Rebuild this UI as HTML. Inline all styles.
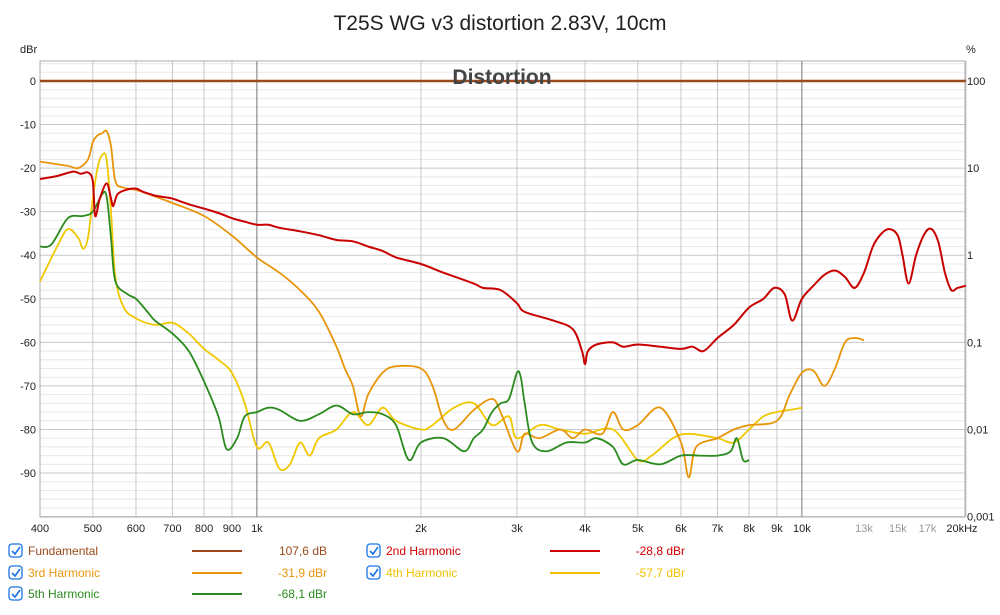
<!DOCTYPE html>
<html><head><meta charset="utf-8"><style>
body{margin:0;background:#fff;font-family:"Liberation Sans",sans-serif}
svg text{font-family:"Liberation Sans",sans-serif}
</style></head><body>
<svg id="c" width="1000" height="610" xmlns="http://www.w3.org/2000/svg">
<text x="500" y="30" text-anchor="middle" font-size="21" fill="#222">T25S WG v3 distortion 2.83V, 10cm</text>
<text x="20" y="53" font-size="11" fill="#222">dBr</text>
<text x="966" y="53" font-size="11" fill="#222">%</text>
<g id="grid"></g>
<g id="axes"></g>
<g id="series"></g>
<text x="502" y="84" text-anchor="middle" font-size="21" font-weight="bold" fill="#444">Distortion</text>
<g id="legend"></g>
</svg>
<script>
const fundF=[400,20000];const fundV=[0,0];
const h2F=[400,430,460,475,490,500,505,515,530,540,545,555,575,600,620,650,680,700,750,800,850,900,950,1000,1050,1100,1200,1300,1400,1500,1600,1700,1800,2000,2200,2500,2600,2800,3000,3100,3500,3800,3950,4000,4050,4200,4500,4700,5000,5500,6000,6300,6600,7000,7500,8000,8500,8900,9300,9600,10000,10500,11000,11500,12000,12500,13000,13500,14000,14500,15000,15300,15700,16200,16800,17300,17800,18300,18800,19300,20000];
const h2V=[-22.5,-21.8,-20.8,-21.3,-21,-23,-31,-27,-23.5,-27,-28.7,-26,-25,-24.7,-25.5,-26.3,-26.7,-27,-28.3,-29.3,-30.3,-31.5,-32.3,-33,-33,-33.7,-34.5,-35.4,-36.5,-36.8,-38,-39,-40.5,-42,-44,-46.5,-47.5,-48,-51,-53,-55,-57,-62,-65,-62,-60.5,-60,-61,-60.5,-61,-61.5,-61,-62,-59,-56,-52,-50,-47.5,-49,-55,-50,-47,-44.5,-43.5,-45,-47.5,-44,-38,-35,-34,-35.5,-40,-46.5,-40,-35,-34,-37,-44,-48,-47.5,-47];
const h3F=[400,450,470,490,500,510,520,530,540,550,570,600,650,700,800,900,1000,1100,1200,1300,1400,1450,1500,1550,1600,1700,1800,2000,2100,2200,2300,2500,2700,2800,3000,3100,3300,3600,3800,4000,4300,4500,4700,5000,5500,6000,6200,6400,7000,7500,8000,9000,9500,10000,10500,11000,11500,12000,12500,13000];
const h3V=[-18.5,-19.5,-20,-18,-14,-12.5,-12,-11.5,-15,-23,-24.5,-25,-26.5,-28,-31,-35.5,-40.5,-44,-48,-53,-61,-66,-70,-77,-72,-67,-65.5,-66,-70,-78,-80,-75.5,-73,-76,-85,-81,-82,-80,-82,-80,-81,-76,-80,-79,-75,-83,-91,-84,-82,-80,-79,-78,-72,-67,-66.5,-70,-66,-60,-59,-59.5];
const h4F=[400,430,450,470,480,490,500,510,520,530,540,550,570,600,650,700,750,800,850,900,950,1000,1050,1100,1150,1200,1250,1300,1400,1500,1600,1700,1800,2000,2100,2300,2500,2700,2900,3000,3300,3600,4000,4500,5000,5300,5800,6200,7000,7500,8000,8500,9000,9500,10000];
const h4V=[-46,-38,-34,-36,-38.5,-36,-27,-20,-17,-18,-30,-45,-52,-54.5,-56,-55.5,-58,-61.5,-64,-67,-74,-84,-83,-89,-88,-83,-86,-82,-80,-76,-79,-75,-78,-80,-79,-75,-74,-79,-77,-82,-79,-80,-81,-80,-87,-86,-82,-81,-82,-83,-80,-77,-76,-75.5,-75];
const h5F=[400,420,450,480,500,520,530,540,550,580,600,630,650,700,750,800,850,880,920,950,1000,1050,1100,1200,1300,1400,1500,1600,1700,1800,1900,2000,2200,2400,2500,2600,2700,2800,2900,3000,3050,3100,3200,3400,3700,4000,4200,4500,4700,5000,5500,6000,6500,7000,7400,7600,7800,8000];
const h5V=[-38,-37.5,-31.5,-31,-30,-26,-26.5,-36,-46,-49,-50,-53,-55,-58,-62,-69,-77,-84.5,-82,-77,-76,-75,-75.5,-78,-76.5,-74.5,-76.5,-76,-76.5,-79,-87,-83,-82,-85,-82,-80,-76,-74,-73,-67,-68,-74,-83,-85,-83,-83,-82,-84,-88,-87,-88,-86,-86,-86,-85,-82,-87,-87];
const yTicks=[0,-10,-20,-30,-40,-50,-60,-70,-80,-90];
const y2Ticks=[[0,"100"],[-20,"10"],[-40,"1"],[-60,"0,1"],[-80,"0,01"],[-100,"0,001"]];
const xTickF=[400,500,600,700,800,900,1000,2000,3000,4000,5000,6000,7000,8000,9000,10000,13000,15000,17000,20000];
const xTickL=["400","500","600","700","800","900","1k","2k","3k","4k","5k","6k","7k","8k","9k","10k","13k","15k","17k","20kHz"];
const X0=40,X1=965,YT=61,YB=517;
const xs=f=>X0+545*Math.log10(f/400);
const ys=v=>81-v*4.356;
const NS="http://www.w3.org/2000/svg";
function mk(p,t,a){const e=document.createElementNS(NS,t);for(const k in a)e.setAttribute(k,a[k]);p.appendChild(e);return e;}
const g=document.getElementById('grid'),ax=document.getElementById('axes'),se=document.getElementById('series'),lg=document.getElementById('legend');
for(let v=4;v>=-100;v-=2){const l=mk(g,'line',{x1:X0,x2:X1,y1:ys(v),y2:ys(v),stroke:v%10==0?'#c8c8c8':'#e8e8e8','stroke-width':1});

}
const gf=[];for(let d of [100,1000,10000])for(let m=1;m<10;m++){const f=d*m;if(f>=400&&f<=20000)gf.push(f);}gf.push(20000);
for(const f of gf){const l=mk(g,'line',{x1:xs(f),x2:xs(f),y1:YT,y2:YB,stroke:(f==1000||f==10000)?'#777':'#c8c8c8','stroke-width':1});

}
const fr=mk(ax,'rect',{x:X0,y:YT,width:X1-X0,height:YB-YT,fill:'none',stroke:'#aaa'});


for(const v of yTicks){const t=mk(ax,'text',{x:36,y:ys(v)+4,'text-anchor':'end','font-size':11,fill:'#222'});t.textContent=v;

}
for(const [v,s] of y2Ticks){const t=mk(ax,'text',{x:967,y:ys(v)+4,'font-size':11,fill:'#222'});t.textContent=s;

}
xTickF.forEach((f,i)=>{const gray=f>10000&&f<20000;const t=mk(ax,'text',{x:xs(f)+(f==20000?-4:0),y:532,'text-anchor':'middle','font-size':11,fill:gray?'#999':'#222'});t.textContent=xTickL[i];

});
function line(F,V,c,w,name){
const P=F.map((f,i)=>[xs(f),ys(V[i])]);
let d='M'+P[0][0].toFixed(1)+' '+P[0][1].toFixed(1);
for(let i=0;i<P.length-1;i++){const p0=P[Math.max(0,i-1)],p1=P[i],p2=P[i+1],p3=P[Math.min(P.length-1,i+2)];
const t=1/6;
d+=` C${(p1[0]+(p2[0]-p0[0])*t).toFixed(1)} ${(p1[1]+(p2[1]-p0[1])*t).toFixed(1)} ${(p2[0]-(p3[0]-p1[0])*t).toFixed(1)} ${(p2[1]-(p3[1]-p1[1])*t).toFixed(1)} ${p2[0].toFixed(1)} ${p2[1].toFixed(1)}`;}
const p=mk(se,'path',{d:d,fill:'none',stroke:c,'stroke-width':w,'stroke-linejoin':'round'});

}
line(fundF,fundV,'#9a4a1c',2.5,'fundamental-line');
line(h4F,h4V,'#f0c800',1.8,'4th-harmonic-line');
line(h3F,h3V,'#e8950a',1.8,'3rd-harmonic-line');
line(h5F,h5V,'#2a8a1e',1.8,'5th-harmonic-line');
line(h2F,h2V,'#c80000',2,'2nd-harmonic-line');
const L=[["Fundamental","#9a4a1c","107,6 dB",0,551],["2nd Harmonic","#d00000","-28,8 dBr",1,551],["3rd Harmonic","#e8950a","-31,9 dBr",0,573],["4th Harmonic","#f0c000","-57,7 dBr",1,573],["5th Harmonic","#2a8a1e","-68,1 dBr",0,594]];
for(const [n,c,v,col,y] of L){const ox=col?358:0;
const cb=mk(lg,'rect',{x:9+ox,y:y-7,width:13,height:13,rx:3,fill:'#fff',stroke:'#1a73e8','stroke-width':1.3});


mk(lg,'path',{d:`M${12+ox} ${y}l3 3l5-7`,fill:'none',stroke:'#1a73e8','stroke-width':1.6});
const t=mk(lg,'text',{x:28+ox,y:y+4,'font-size':12,fill:c});t.textContent=n;


const ln=mk(lg,'line',{x1:192+ox,x2:242+ox,y1:y,y2:y,stroke:c,'stroke-width':2});


const vt=mk(lg,'text',{x:327+ox,y:y+4,'text-anchor':'end','font-size':12,fill:c});vt.textContent=v;

}
</script>
</body></html>
